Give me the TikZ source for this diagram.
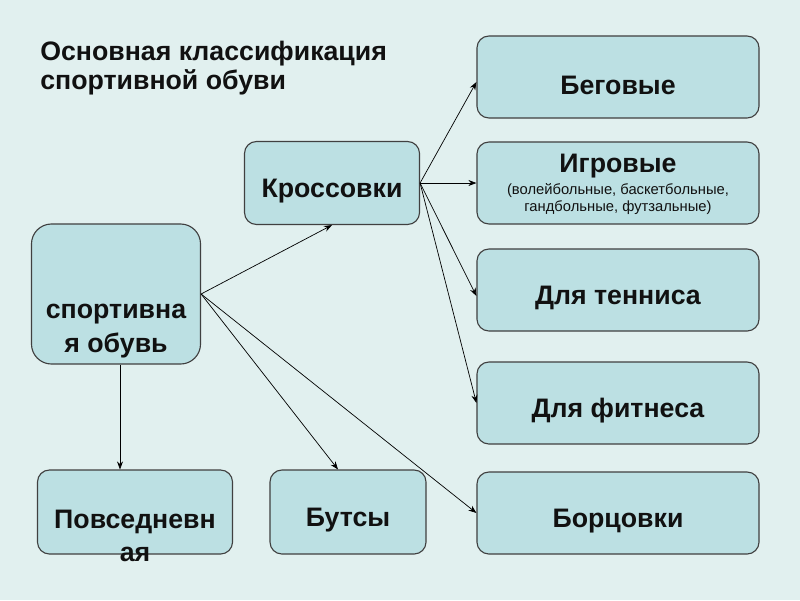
\documentclass[tikz,border=0pt]{standalone}
\usepackage{fontspec}
\setmainfont{Liberation Sans}
\usetikzlibrary{positioning, arrows.meta, calc}
\definecolor{slideBg}{HTML}{E1F0EF}
\definecolor{boxFill}{HTML}{BCE0E3}
\definecolor{boxLine}{HTML}{404040}
\definecolor{textDark}{HTML}{111111}

\begin{document}
\begin{tikzpicture}[x=0.025cm, y=-0.025cm,
    every node/.style={font=\fontsize{19}{24}\selectfont\bfseries, text=textDark},
    box/.style={draw=boxLine, fill=boxFill, line width=0.8pt, rounded corners=0.3cm,
                minimum width=7.05cm, minimum height=2.05cm},
    subtext/.style={font=\fontsize{10.5}{12}\selectfont, align=center},
    boxtext/.style={align=center, yshift=-0.2cm},
    link/.style={-{Stealth[length=2mm, width=1.5mm]}, draw=black, line width=0.5pt},
]
% фон слайда 800 x 600
\fill[slideBg] (0,0) rectangle (800,600);
\useasboundingbox (0,0) rectangle (800,600);
% заголовок
\node[anchor=west, align=left, inner sep=0pt, font=\fontsize{19}{21}\selectfont\bfseries]
    (title) at (40,68) {Основная классификация\\спортивной обуви};
% правая колонка
\node[box, label={[boxtext, name=runners-t]center:Беговые}]       (runners)   at (618, 77) {};
\node[box, label={[boxtext, yshift=0.62cm, name=games-t]center:Игровые},
           label={[subtext, yshift=-0.4cm, name=games-s]center:(волейбольные, баскетбольные,\\гандбольные, футзальные)}]
                                                                    (games)     at (618,183) {};
\node[box, label={[boxtext, name=tennis-t]center:Для тенниса}]    (tennis)    at (618,290) {};
\node[box, label={[boxtext, name=fitness-t]center:Для фитнеса}]   (fitness)   at (618,403) {};
\node[box, label={[boxtext, name=wrestling-t]center:Борцовки}]    (wrestling) at (618,513) {};
% середина и левая часть
\node[box, minimum width=4.375cm, minimum height=2.075cm,
           label={[boxtext, name=sneakers-t]center:Кроссовки}]    (sneakers)  at (332,183) {};
\node[box, minimum width=4.225cm, minimum height=3.5cm, rounded corners=0.5cm,
           label={[boxtext, yshift=-0.725cm, name=shoes-t]center:спортивна\\я обувь}] (shoes) at (116,294) {};
\node[box, minimum width=4.875cm, minimum height=2.1cm,
           label={[boxtext, yshift=-0.4cm, name=casual-t]center:Повседневн\\ая}] (casual) at (135,512) {};
\node[box, minimum width=3.9cm, minimum height=2.1cm,
           label={[boxtext, name=boots-t]center:Бутсы}]           (boots)     at (348,512) {};
% связи
\coordinate (drop) at ($(shoes.south)+(4,0)$);
\draw[link] (shoes.east) -- (sneakers.south);
\draw[link] (shoes.east) -- ($(boots.north)+(-10,0)$);
\draw[link] (shoes.east) -- (wrestling.west);
\draw[link] (drop) -- (drop |- casual.north);
\draw[link] (sneakers.east) -- ($(runners.west)+(0,5)$);
\draw[link] (sneakers.east) -- (games.west);
\draw[link] (sneakers.east) -- ($(tennis.west)+(0,6)$);
\draw[link] (sneakers.east) -- (fitness.west);
\end{tikzpicture}
\end{document}
